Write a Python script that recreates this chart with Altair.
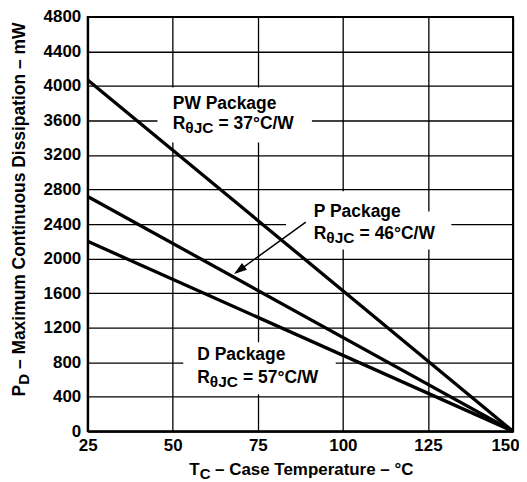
import altair as alt
import pandas as pd

# ---------------- data ----------------
case_temp = [25, 150]                 # °C
pw_mw = [4070, 0]                     # PW package, mW
p_mw = [2720, 0]                      # P package, mW
d_mw = [2200, 0]                      # D package, mW
packages = ["PW", "P", "D"]
x_tick_values = [25, 50, 75, 100, 125, 150]
y_tick_values = [0, 400, 800, 1200, 1600, 2000, 2400, 2800, 3200, 3600, 4000, 4400, 4800]

pw_text = ["PW Package", "R", "θJC", "= 37°C/W"]
p_text = ["P Package", "R", "θJC", "= 46°C/W"]
d_text = ["D Package", "R", "θJC", "= 57°C/W"]
y_title = ["P", "D", "– Maximum Continuous Dissipation – mW"]
x_title = ["T", "C", "– Case Temperature – °C"]

FONT = "Liberation Sans"
W, H = 427, 416

lines_df = pd.DataFrame({
    "tc": case_temp * 3,
    "pd": pw_mw + p_mw + d_mw,
    "pkg": [packages[0]] * 2 + [packages[1]] * 2 + [packages[2]] * 2,
})

xscale = alt.Scale(domain=[25, 150], nice=False, zero=False)
yscale = alt.Scale(domain=[0, 4800], nice=False, zero=False)

common_axis = dict(grid=True, ticks=False, domain=True, title=None, format="d",
                   labelFont=FONT, labelFontWeight="bold", labelFontSize=17,
                   labelColor="black", gridColor="black", gridWidth=1.3,
                   gridOpacity=1, domainColor="black", domainWidth=2)
xaxis = alt.Axis(values=x_tick_values, labelPadding=6, labelFlush=False,
                 labelOffset={"condition": {"test": "datum.value === 150", "value": -8}, "value": 0},
                 **common_axis)
yaxis = alt.Axis(values=y_tick_values, labelPadding=7, **common_axis)


def X(f):
    return alt.X(f, type="quantitative", scale=xscale, axis=xaxis)


def Y(f):
    return alt.Y(f, type="quantitative", scale=yscale, axis=yaxis)


# white boxes behind the annotation texts (gaps in the grid)
boxes = pd.DataFrame({
    "x1": [45.5, 83.3, 83.3, 53.1],
    "x2": [90.9, 119.6, 131.9, 97.9],
    "y1": [3981, 2780, 2545, 1030],
    "y2": [3346, 2545, 2105, 430],
})
box_layer = alt.Chart(boxes).mark_rect(color="white", opacity=1).encode(
    x=X("x1"), x2="x2", y=Y("y1"), y2="y2")

line_layer = alt.Chart(lines_df).mark_line(color="black", strokeWidth=3.3).encode(
    x=X("tc"), y=Y("pd"), detail="pkg")


def data_text(x, y, s, dx=0, dy=0, size=17.5):
    return alt.Chart(pd.DataFrame({"x": [x], "y": [y], "t": [s]})).mark_text(
        align="left", baseline="alphabetic", font=FONT, fontWeight="bold",
        fontSize=size, color="black", dx=dx, dy=dy).encode(
        x=X("x"), y=Y("y"), text="t")


def label_block(x, y1, y2, parts):
    return [
        data_text(x, y1, parts[0]),
        data_text(x, y2, parts[1]),
        data_text(x, y2, parts[2], dx=12.6, dy=4, size=15.5),
        data_text(x, y2, parts[3], dx=46.0),
    ]


def px_text(x, y, s, dx=0, dy=0, size=17.5, angle=0):
    return alt.Chart(pd.DataFrame({"t": [s]})).mark_text(
        align="left", baseline="alphabetic", font=FONT, fontWeight="bold",
        fontSize=size, color="black", dx=dx, dy=dy, angle=angle).encode(
        x=alt.value(x), y=alt.value(y), text="t")


texts = []
texts += label_block(50, 3735, 3496, pw_text)
texts += label_block(91.45, 2484, 2227, p_text)
texts += label_block(57.2, 831, 562, d_text)

# axis titles with subscripts
texts += [
    px_text(-63, 381, y_title[0], angle=270),
    px_text(-63, 381, y_title[1], dx=11.7, dy=4, size=15, angle=270),
    px_text(-63, 381, y_title[2], dx=27.4, angle=270),
    px_text(102, 460, x_title[0], size=17),
    px_text(102, 460, x_title[1], dx=10.4, dy=4, size=15),
    px_text(102, 460, x_title[2], dx=25.9, size=17),
]

# arrow pointing at the P package line
arrow_df = pd.DataFrame({"x": [89.1], "y": [2423], "x2": [68.6], "y2": [1838]})
arrow_line = alt.Chart(arrow_df).mark_rule(color="black", strokeWidth=1.5).encode(
    x=X("x"), y=Y("y"), x2="x2", y2="y2")
head_df = pd.DataFrame({"x": [68.0], "y": [1823]})
arrow_head = alt.Chart(head_df).mark_point(
    shape="M0,0 L0.65,2 L-0.65,2 Z", filled=True, size=169, angle=234,
    color="black", opacity=1, strokeWidth=0).encode(x=X("x"), y=Y("y"))

chart = alt.layer(box_layer, line_layer, *texts, arrow_line, arrow_head).properties(
    width=W, height=H,
    autosize="none",
    padding={"left": 80, "top": 8, "right": 6, "bottom": 50},
    background="white",
).configure_view(stroke="black", strokeWidth=2)

chart.save("out.html", embed_options={"renderer": "svg", "actions": False})
